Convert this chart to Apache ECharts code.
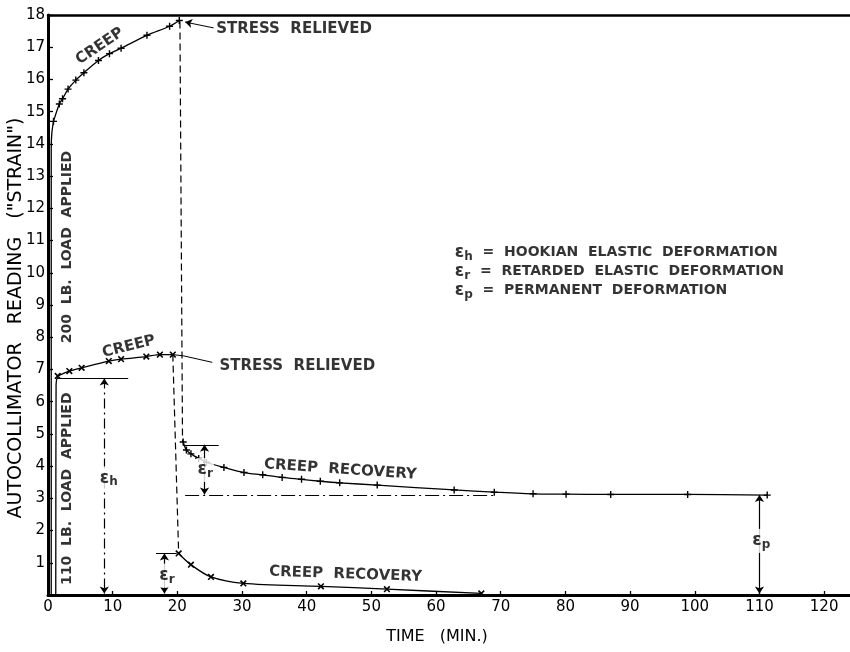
<!DOCTYPE html>
<html>
<head>
<meta charset="utf-8">
<title>Creep and creep recovery</title>
<script src="https://cdn.jsdelivr.net/npm/echarts@6/dist/echarts.min.js"></script>
<style>
  html, body { margin: 0; padding: 0; background: #fff; }
  #chart { width: 850px; height: 652px; }
</style>
</head>
<body>
<div id="chart"></div>
<script>
// tick labels
var xTicks = [0, 10, 20, 30, 40, 50, 60, 70, 80, 90, 100, 110, 120];
var yTicks = [1, 2, 3, 4, 5, 6, 7, 8, 9, 10, 11, 12, 13, 14, 15, 16, 17, 18];

// 200 lb. load  [time (min), reading]
var rise200 = [[0.5, 0], [0.5, 13.9], [0.6, 14.35], [0.85, 14.7]];
var creep200 = [[0.85, 14.7], [1.75, 15.24], [2.25, 15.4], [3.1, 15.7], [4.3, 15.98], [5.55, 16.21],
    [7.8, 16.59], [9.5, 16.8], [11.3, 16.97], [15.3, 17.37], [18.8, 17.65], [20.3, 17.83]];
var relief200 = [[20.4, 17.8], [20.8, 4.75]];
var recovery200 = [[20.9, 4.75], [21.4, 4.5], [22.1, 4.38], [23.3, 4.24], [24.5, 4.12], [27.2, 3.96],
    [30.3, 3.8], [33.2, 3.73], [36.2, 3.65], [39.2, 3.59], [42.1, 3.53], [45.1, 3.48], [50.9, 3.41],
    [62.8, 3.26], [69, 3.19], [75, 3.14], [80.1, 3.13], [87, 3.12], [98.9, 3.12], [111.2, 3.1]];

// 110 lb. load
var rise110 = [[1.2, 0], [1.25, 6.55], [1.5, 6.8]];
var creep110 = [[1.5, 6.8], [3.3, 6.95], [5.2, 7.05], [9.4, 7.26], [11.3, 7.32], [15.2, 7.4],
    [17.3, 7.46], [19.3, 7.46]];
var relief110 = [[19.3, 7.46], [20.2, 1.29]];
var recovery110 = [[20.2, 1.29], [22.1, 0.94], [25.2, 0.56], [30.2, 0.36], [42.2, 0.27], [52.4, 0.18], [67, 0.05]];

// deformation markers
var arrowSegs = [
    [[8.7, 6.72], [8.7, 0.05]],
    [[18.0, 1.29], [18.0, 0.05]],
    [[24.2, 4.66], [24.2, 3.12]],
    [[110, 3.1], [110, 0.05]]
];
var plainSegs = [
    [[1.4, 6.72], [12.4, 6.72]],
    [[16.7, 1.29], [19.9, 1.29]],
    [[20.9, 4.66], [26.4, 4.66]],
    [[19.3, 7.46], [21, 7.42]],
    [[21, 7.42], [25.4, 7.22]]
];
var baseLine = [[21.2, 3.1], [69, 3.1]];
var pointer200 = [[21.2, 17.78], [25.6, 17.6]];

// centred notes
var notes = [
    { text: 'CREEP', at: [8.0, 17.03], rotate: 34, size: 15 },
    { text: '200  LB.  LOAD  APPLIED', at: [3.0, 10.8], rotate: 90, size: 14 },
    { text: '110  LB.  LOAD  APPLIED', at: [3.0, 3.3], rotate: 90, size: 14 },
    { text: 'CREEP', at: [12.5, 7.71], rotate: 14, size: 15 },
    { text: 'CREEP  RECOVERY', at: [45.2, 3.89], rotate: -4, size: 15 },
    { text: 'CREEP  RECOVERY', at: [46, 0.64], rotate: -2, size: 15 }
];
// left-anchored notes
var sideNotes = [
    { text: 'STRESS  RELIEVED', at: [26.0, 17.55] },
    { text: 'STRESS  RELIEVED', at: [26.5, 7.09] }
];
var epsNotes = [
    { sub: 'h', at: [9.4, 3.62] },
    { sub: 'r', at: [18.4, 0.6] },
    { sub: 'r', at: [24.3, 3.88] },
    { sub: 'p', at: [110.3, 1.68] }
];
var keyNotes = [
    { sub: 'h', text: 'HOOKIAN  ELASTIC  DEFORMATION', at: [62.9, 10.62] },
    { sub: 'r', text: 'RETARDED  ELASTIC  DEFORMATION', at: [62.9, 10.03] },
    { sub: 'p', text: 'PERMANENT  DEFORMATION', at: [62.9, 9.44] }
];

var ink = '#000';
var font = 'DejaVu Sans';
var plus = 'path://M4,0H6V4H10V6H6V10H4V6H0V4H4Z';

var chart = echarts.init(document.getElementById('chart'));

function curve(data, opts) {
    return Object.assign({
        type: 'line',
        data: data,
        symbol: 'none',
        smooth: false,
        lineStyle: { color: ink, width: 1.3 },
        itemStyle: { color: ink },
        silent: true,
        z: 3
    }, opts || {});
}

var textStyle = { fontFamily: font, fontSize: 15, fontWeight: 'bold', color: ink };

var rich = {
    e: { fontSize: 17, fontFamily: font, fontWeight: 'bold', color: ink },
    s: { fontSize: 12, fontFamily: font, fontWeight: 'bold', color: ink, padding: [8, 0, 0, 0] },
    t: { fontSize: 14, fontFamily: font, fontWeight: 'bold', color: ink }
};

var option = {
    animation: false,
    backgroundColor: '#fff',
    grid: { left: 48, right: 0, top: 15, bottom: 57, outerBoundsMode: 'none', containLabel: false },
    xAxis: [{
        type: 'value', min: 0, max: 124,
        name: 'TIME   (MIN.)', nameLocation: 'middle', nameGap: 34, nameMoveOverlap: false,
        nameTextStyle: { fontFamily: font, fontSize: 16, color: ink, padding: [0, 24, 0, 0] },
        axisLine: { lineStyle: { color: ink, width: 3 } },
        axisTick: { inside: true, length: 4, customValues: xTicks, lineStyle: { color: ink, width: 1.3 } },
        axisLabel: { customValues: xTicks, margin: 5, fontFamily: font, fontSize: 15, color: ink },
        splitLine: { show: false }
    }, {
        type: 'value', min: 0, max: 124, position: 'top',
        axisLine: { lineStyle: { color: ink, width: 2.5 } },
        axisTick: { show: false }, axisLabel: { show: false }, splitLine: { show: false }
    }],
    yAxis: {
        type: 'value', min: 0, max: 18,
        name: 'AUTOCOLLIMATOR   READING   ("STRAIN")', nameLocation: 'middle', nameGap: 22, nameRotate: 90,
        nameMoveOverlap: false,
        nameTextStyle: { fontFamily: font, fontSize: 19, color: ink, padding: [0, 26, 0, 0] },
        axisLine: { lineStyle: { color: ink, width: 3 } },
        axisTick: { inside: true, length: 5, customValues: yTicks, lineStyle: { color: ink, width: 1.3 } },
        axisLabel: { customValues: yTicks, margin: 3, fontFamily: font, fontSize: 15, color: ink },
        splitLine: { show: false }
    },
    series: [
        curve(rise200, { smooth: 0.4 }),
        curve(creep200, { smooth: 0.3, symbol: plus, symbolSize: 7 }),
        curve(relief200, { lineStyle: { color: ink, width: 1.2, type: [7, 4] } }),
        curve(recovery200, { smooth: 0.3, symbol: plus, symbolSize: 7 }),
        curve(rise110, { smooth: 0.4 }),
        curve(creep110, { smooth: 0.3, symbol: plus, symbolRotate: 45, symbolSize: 8 }),
        curve(relief110, { lineStyle: { color: ink, width: 1.2, type: [7, 4] } }),
        curve(recovery110, { smooth: 0.3, symbol: plus, symbolRotate: 45, symbolSize: 8 }),
        {
            type: 'lines', coordinateSystem: 'cartesian2d', silent: true, z: 4,
            symbol: ['arrow', 'arrow'], symbolSize: 7,
            lineStyle: { color: ink, width: 1.2, opacity: 1 },
            data: arrowSegs.map(function (c, i) {
                return { coords: c, lineStyle: i === 0 ? { type: [10, 4, 2, 4] } : {} };
            })
        },
        {
            type: 'lines', coordinateSystem: 'cartesian2d', silent: true, z: 4,
            lineStyle: { color: ink, width: 1, opacity: 1 },
            data: plainSegs.map(function (c) { return { coords: c }; })
                .concat([{ coords: baseLine, lineStyle: { type: [14, 4, 2, 4] } }])
        },
        {
            type: 'lines', coordinateSystem: 'cartesian2d', silent: true, z: 4,
            symbol: ['arrow', 'none'], symbolSize: 7,
            lineStyle: { color: ink, width: 1, opacity: 1 },
            data: [{ coords: pointer200 }]
        },
        {
            type: 'scatter', symbolSize: 0, silent: true, z: 6,
            data: notes.map(function (n) {
                return {
                    value: n.at,
                    label: Object.assign({ show: true, position: 'inside', formatter: n.text, rotate: n.rotate },
                        textStyle, { fontSize: n.size })
                };
            })
        },
        {
            type: 'scatter', symbolSize: 0, silent: true, z: 6,
            data: sideNotes.map(function (n) {
                return {
                    value: n.at,
                    label: Object.assign({ show: true, position: 'right', distance: 0, formatter: n.text }, textStyle)
                };
            })
        },
        {
            type: 'scatter', symbolSize: 0, silent: true, z: 6,
            data: epsNotes.map(function (n) {
                return {
                    value: n.at,
                    label: {
                        show: true, position: 'inside', formatter: '{e|ε}{s|' + n.sub + '}',
                        backgroundColor: '#fff', padding: [2, 1, 2, 1], rich: rich
                    }
                };
            })
        },
        {
            type: 'scatter', symbolSize: 0, silent: true, z: 6,
            data: keyNotes.map(function (n) {
                return {
                    value: n.at,
                    label: {
                        show: true, position: 'right', distance: 0,
                        formatter: '{e|ε}{s|' + n.sub + '}{t|  =  ' + n.text + '}', rich: rich
                    }
                };
            })
        }
    ]
};

chart.setOption(option);
</script>
</body>
</html>
